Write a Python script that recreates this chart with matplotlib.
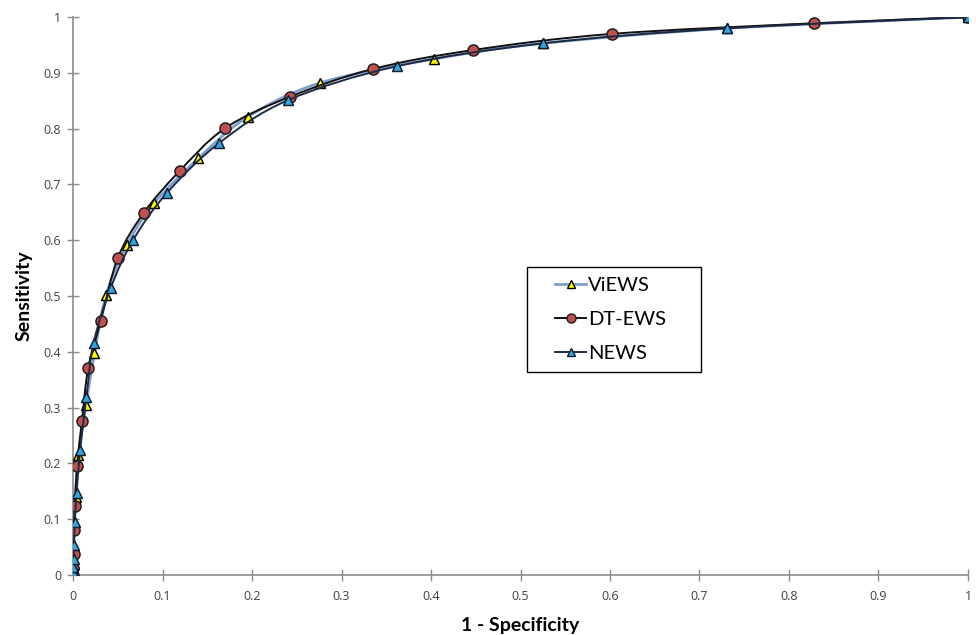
#!/usr/bin/env python3
"""ROC curves for ViEWS, DT-EWS and NEWS early warning scores."""
import matplotlib

matplotlib.use("Agg")
import matplotlib.pyplot as plt
import numpy as np
from matplotlib import patches
from matplotlib.lines import Line2D
from matplotlib.path import Path

plt.rcParams["font.family"] = ["Lato", "DejaVu Sans"]

# (1 - specificity, sensitivity) at each score threshold
views_fpr = [0, 0.0003, 0.0006, 0.001, 0.0015, 0.003, 0.006, 0.0145, 0.024, 0.037,
             0.060, 0.091, 0.140, 0.195, 0.276, 0.403, 0.525, 0.731, 1.0]
views_tpr = [0, 0.008, 0.02, 0.045, 0.09, 0.14, 0.215, 0.305, 0.398, 0.502,
             0.591, 0.667, 0.747, 0.821, 0.882, 0.925, 0.953, 0.980, 1.0]

dtews_fpr = [0, 0.0005, 0.001, 0.001, 0.002, 0.0045, 0.010, 0.017, 0.031, 0.050,
             0.079, 0.119, 0.170, 0.242, 0.335, 0.447, 0.602, 0.828, 1.0]
dtews_tpr = [0, 0.012, 0.037, 0.081, 0.124, 0.195, 0.276, 0.371, 0.455, 0.568,
             0.649, 0.724, 0.801, 0.857, 0.907, 0.941, 0.970, 0.989, 1.0]

news_fpr = [0, 0, 0.0003, 0.0006, 0.001, 0.002, 0.004, 0.008, 0.015, 0.023,
            0.042, 0.067, 0.105, 0.163, 0.240, 0.362, 0.525, 0.731, 1.0]
news_tpr = [0, 0.005, 0.015, 0.028, 0.054, 0.095, 0.147, 0.224, 0.319, 0.416,
            0.514, 0.600, 0.685, 0.774, 0.851, 0.912, 0.953, 0.980, 1.0]

ticks = [0, 0.1, 0.2, 0.3, 0.4, 0.5, 0.6, 0.7, 0.8, 0.9, 1]
tick_labels = ["0", "0.1", "0.2", "0.3", "0.4", "0.5", "0.6", "0.7", "0.8", "0.9", "1"]

STYLES = {
    "ViEWS": dict(line="#7f9fd0", lw=2.0, marker="^", face="#ffff00", edge="#000000", ms=7.5),
    "DT-EWS": dict(line="#111111", lw=1.4, marker="o", face="#c0504d", edge="#1a1a1a", ms=8),
    "NEWS": dict(line="#1c2a44", lw=1.4, marker="^", face="#31a6dc", edge="#0e1a2e", ms=7.5),
}


def smooth_path(xs, ys):
    """Catmull-Rom style smoothed line through the points, as cubic Bezier segments."""
    pts = np.column_stack([xs, ys]).astype(float)
    verts = [pts[0]]
    codes = [Path.MOVETO]
    n = len(pts)
    for i in range(n - 1):
        p0 = pts[max(i - 1, 0)]
        p1 = pts[i]
        p2 = pts[i + 1]
        p3 = pts[min(i + 2, n - 1)]
        c1 = p1 + (p2 - p0) / 6.0
        c2 = p2 - (p3 - p1) / 6.0
        verts += [c1, c2, p2]
        codes += [Path.CURVE4] * 3
    return Path(verts, codes)


def draw_series(ax, xs, ys, name, z):
    st = STYLES[name]
    ax.add_patch(patches.PathPatch(smooth_path(xs, ys), facecolor="none",
                                   edgecolor=st["line"], linewidth=st["lw"], zorder=z))
    ax.plot(xs, ys, linestyle="none", marker=st["marker"], markersize=st["ms"],
            markerfacecolor=st["face"], markeredgecolor=st["edge"],
            markeredgewidth=1.05, zorder=z + 0.5)


fig = plt.figure(figsize=(9.76, 6.35), dpi=100)
ax = fig.add_axes([0.0748, 0.0945, 0.917, 0.8785])

draw_series(ax, views_fpr, views_tpr, "ViEWS", 3)
draw_series(ax, dtews_fpr, dtews_tpr, "DT-EWS", 4)
draw_series(ax, news_fpr, news_tpr, "NEWS", 5)

ax.set_xlim(0, 1)
ax.set_ylim(0, 1)
ax.set_xticks(ticks)
ax.set_xticklabels(tick_labels)
ax.set_yticks(ticks)
ax.set_yticklabels(tick_labels)
for side in ("top", "right"):
    ax.spines[side].set_visible(False)
for side in ("left", "bottom"):
    ax.spines[side].set_color("#8c8c8c")
    ax.spines[side].set_linewidth(1.2)
    ax.spines[side].set_zorder(1)
ax.tick_params(direction="inout", length=9, width=1, color="#8c8c8c",
               labelcolor="#404040", pad=4)
ax.tick_params(axis="x", pad=6)
for lab in ax.get_xticklabels() + ax.get_yticklabels():
    lab.set_fontfamily(["Open Sans", "DejaVu Sans"])
    lab.set_fontsize(9)

ax.set_xlabel("1 - Specificity", fontsize=14, fontweight="bold")
ax.set_ylabel("Sensitivity", fontsize=14, fontweight="bold")
ax.xaxis.set_label_coords(0.5, -0.075)
ax.yaxis.set_label_coords(-0.045, 0.5)

# legend: handles drawn on their own, with a plain square frame around them
handles = []
for name, st in STYLES.items():
    handles.append(Line2D([], [], color=st["line"], linewidth=st["lw"], marker=st["marker"],
                          markersize=st["ms"] - 1.5, markerfacecolor=st["face"],
                          markeredgecolor=st["edge"], markeredgewidth=1.0, label=name))
leg = ax.legend(handles=handles, loc="upper left", bbox_to_anchor=(0.5385, 0.535),
                borderaxespad=0, fontsize=14.5, handlelength=1.55, handletextpad=0.1,
                borderpad=0, labelspacing=0.85, frameon=False)
fig.add_artist(patches.Rectangle((527 / 976, 1 - 372 / 635), 174 / 976, 105 / 635,
                                 transform=fig.transFigure, facecolor="none",
                                 edgecolor="#000000", linewidth=1.0, zorder=6))

fig.savefig("out.png", dpi=100)
